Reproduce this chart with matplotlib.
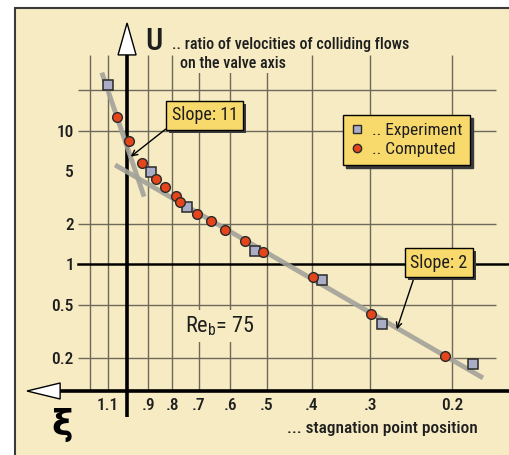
import matplotlib
matplotlib.use('Agg')
import matplotlib.pyplot as plt
import matplotlib.patheffects as pe
from matplotlib.patches import Rectangle, Polygon
from matplotlib.lines import Line2D

plt.rcParams['font.family'] = ['Roboto Condensed', 'DejaVu Sans']
plt.rcParams['mathtext.fontset'] = 'custom'
plt.rcParams['mathtext.rm'] = 'Roboto Condensed'

# data (xi = stagnation point position, u = velocity ratio)
xi_exp = [1.10, 0.89, 0.745, 0.53, 0.38, 0.283, 0.18]
u_exp = [22.0, 4.9, 2.7, 1.26, 0.76, 0.36, 0.178]

xi_comp = [1.05, 0.99, 0.927, 0.866, 0.83, 0.786, 0.769, 0.706, 0.66,
           0.616, 0.559, 0.509, 0.399, 0.299, 0.207]
u_comp = [12.7, 8.4, 5.7, 4.35, 3.8, 3.23, 2.94, 2.38, 2.12,
          1.81, 1.49, 1.24, 0.80, 0.427, 0.206]

# the two fitted lines (slope 11 and slope 2)
steep_xi = [1.133, 0.919]
steep_u = [27.2, 3.21]
flat_xi = [1.061, 0.1716]
flat_u = [5.54, 0.141]

xi_ticks = [1.1, 0.9, 0.8, 0.7, 0.6, 0.5, 0.4, 0.3, 0.2]
xi_labels = ['1.1', '.9', '.8', '.7', '.6', '.5', '.4', '.3', '0.2']
xi_grid = [1.2, 1.1, 0.9, 0.8, 0.7, 0.6, 0.5, 0.4, 0.3, 0.2]
u_ticks = [10, 5, 2, 1, 0.5, 0.2]
u_labels = ['10', '5', '2', '1', '0.5', '0.2']
u_grid = [20, 10, 2, 0.5, 0.2]

cream = '#f6ebc3'
yellow = '#f8d96c'
gridc = '#6e6a5a'
txt = '#1e1e1e'

fig = plt.figure(figsize=(5.09, 4.55), dpi=100)
fig.add_artist(Rectangle((15 / 509, -0.1), 1.2, 1.1 - 8 / 455, transform=fig.transFigure,
                         fc=cream, ec='#3a3a3a', lw=1.5, zorder=0))

ax = fig.add_axes([0, 0, 1, 1])
ax.set_facecolor('none')
ax.set_xscale('log')
ax.set_yscale('log')
ax.set_xlim(1.876, 0.1509)
ax.set_ylim(0.03737, 95.1)

# axis geometry (data units)
x_axis_u = 0.1126
grid_top = 36.9
grid_left, grid_right = 1.275, 0.1609

for s in ax.spines.values():
    s.set_color('none')
ax.spines['left'].set_position(('data', grid_left))
ax.spines['bottom'].set_position(('data', x_axis_u))
ax.set_xticks(xi_ticks, labels=xi_labels)
ax.set_yticks(u_ticks, labels=u_labels)
ax.minorticks_off()
ax.tick_params(axis='both', length=0, labelsize=12.5, labelcolor=txt)
ax.tick_params(axis='x', pad=5)
ax.tick_params(axis='y', pad=3)
for lab in ax.get_xticklabels() + ax.get_yticklabels():
    lab.set_fontweight('medium')

# grid
ax.hlines(u_grid, grid_left, grid_right, color=gridc, lw=1, zorder=1)
ax.vlines(xi_grid, x_axis_u, grid_top, color=gridc, lw=1, zorder=1)
ax.plot([grid_left, 0.1509], [1, 1], color='black', lw=1.8, zorder=2)

# main axes with arrow heads
ax.plot([1.0, 1.0], [0.072, grid_top], color='black', lw=2.6, zorder=2, solid_capstyle='butt')
ax.plot([1.393, 0.1509], [x_axis_u, x_axis_u], color='black', lw=2.6, zorder=2, solid_capstyle='butt')
ax.add_patch(Polygon([(1.0, 64.0), (1.0456, grid_top), (1 / 1.0456, grid_top)],
                     closed=True, fc='white', ec='black', lw=1, zorder=3))
ax.add_patch(Polygon([(1.641, x_axis_u), (1.393, x_axis_u * 1.148), (1.393, x_axis_u / 1.148)],
                     closed=True, fc='white', ec='black', lw=1, zorder=3))

# fitted lines
ax.plot(steep_xi, steep_u, color='#a3a29a', lw=3.5, alpha=0.9, zorder=4, solid_capstyle='butt')
ax.plot(flat_xi, flat_u, color='#a3a29a', lw=3.5, alpha=0.9, zorder=4, solid_capstyle='butt')

# data
ax.plot(xi_exp, u_exp, ls='none', marker='s', ms=7, mfc='#a9adc6', mec='#2a2a2a', mew=1.1, zorder=5)
ax.plot(xi_comp, u_comp, ls='none', marker='o', ms=7, mfc='#e5451a', mec='#2a2a2a', mew=1.0, zorder=5)

# labels
mask = dict(fc=cream, ec='none', pad=1)
fig.text(154 / 509, 1 - 41 / 455, 'U', fontsize=22, fontweight='medium', ha='center',
         va='center', color=txt, zorder=6)
fig.text(172 / 509, 1 - 44 / 455, '.. ratio of velocities of colliding flows', fontsize=11.5,
         fontweight='medium', ha='left', va='center', color=txt, bbox=mask, zorder=6)
fig.text(180 / 509, 1 - 64 / 455, 'on the valve axis', fontsize=11.5, fontweight='medium',
         ha='left', va='center', color=txt, bbox=mask, zorder=6)
fig.text(287 / 509, 1 - 429 / 455, '... stagnation point position', fontsize=12.5,
         fontweight='medium', ha='left', va='center', color=txt, zorder=6)
fig.text(62 / 509, 1 - 425 / 455, 'ξ', family='DejaVu Sans', fontsize=26, fontweight='bold',
         ha='center', va='center', color='black', zorder=6)
fig.text(185 / 509, 1 - 332 / 455, r'Re$_{\mathrm{b}}$= 75', fontsize=16, ha='left',
         va='baseline', color=txt, bbox=dict(fc=cream, ec='none', pad=3), zorder=6)

# slope call-outs
shadow = [pe.withSimplePatchShadow(offset=(2, -2), shadow_rgbFace='#3a3a3a', alpha=1.0)]
a1 = ax.annotate('Slope: 11', xy=(0.982, 6.39), xytext=(204.5, 455 - 115.5),
                 textcoords='figure pixels', fontsize=13, ha='center', va='center', color=txt,
                 bbox=dict(boxstyle='square,pad=0.3', fc=yellow, ec='black', lw=1),
                 arrowprops=dict(arrowstyle='->,head_length=0.3,head_width=0.15', color='black',
                                 lw=1, relpos=(0, 0), shrinkA=0, shrinkB=0), zorder=7)
a2 = ax.annotate('Slope: 2', xy=(0.263, 0.326), xytext=(439, 455 - 262.5),
                 textcoords='figure pixels', fontsize=13, ha='center', va='center', color=txt,
                 bbox=dict(boxstyle='square,pad=0.3', fc=yellow, ec='black', lw=1),
                 arrowprops=dict(arrowstyle='->,head_length=0.3,head_width=0.15', color='black',
                                 lw=1, relpos=(0.1, 0), shrinkA=0, shrinkB=0), zorder=7)
for a in (a1, a2):
    a.get_bbox_patch().set_path_effects(shadow)

handles = [Line2D([], [], ls='none', marker='s', ms=6, mfc='#a9adc6', mec='#2a2a2a'),
           Line2D([], [], ls='none', marker='o', ms=6, mfc='#e5451a', mec='#2a2a2a')]
leg = ax.legend(handles, ['.. Experiment', '.. Computed'], loc='center',
                bbox_to_anchor=(406.5 / 509, 1 - 140 / 455), bbox_transform=fig.transFigure,
                fontsize=12.5, frameon=True, fancybox=False, framealpha=1, facecolor=yellow,
                edgecolor='black', handlelength=0.7, handletextpad=0.5, borderpad=0.45,
                labelspacing=0.25, shadow={'color': '#3a3a3a', 'alpha': 1.0})
leg.set_zorder(7)
for t in leg.get_texts():
    t.set_color(txt)

fig.savefig('out.png', dpi=100)
